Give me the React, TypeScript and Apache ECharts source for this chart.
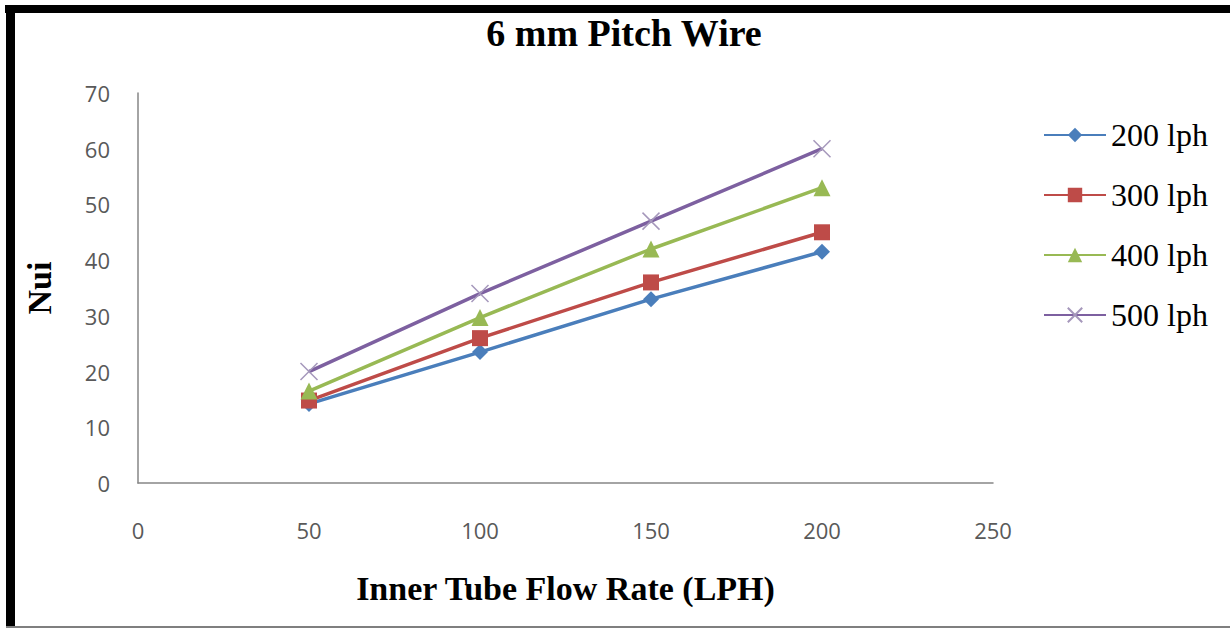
import React, { useEffect, useRef } from "react";
import * as echarts from "echarts";

const xValues = [50, 100, 150, 200];
const seriesNames = ["200 lph", "300 lph", "400 lph", "500 lph"];
const s200 = [14.2, 23.5, 33, 41.5];
const s300 = [14.8, 26, 36, 45];
const s400 = [16.5, 29.7, 42, 53];
const s500 = [20, 34, 47, 60];
const colors = ["#4A7EBB", "#BE4B48", "#98B954", "#7D60A0"];
const symbols = ["diamond", "rect", "triangle", "path://M0,0L10,10M10,0L0,10"];
const symbolSizes = [16, 16, 17, 17];

const xTicks = { min: 0, max: 250, interval: 50 };
const yTicks = { min: 0, max: 70, interval: 10 };

export default function App() {
  const ref = useRef<HTMLDivElement>(null);
  useEffect(() => {
    if (!ref.current) return;
    const chart = echarts.init(ref.current, undefined, { renderer: "svg" });
    const all = [s200, s300, s400, s500];
    const series = all.map((vals, i) => ({
      name: seriesNames[i],
      type: "line",
      data: xValues.map((x, j) => [x, vals[j]]),
      symbol: symbols[i],
      symbolSize: symbolSizes[i],
      showAllSymbol: true,
      lineStyle: { color: colors[i], width: 3.5 },
      itemStyle:
        i === 3
          ? { color: "#a597bb", borderColor: "#a597bb", borderWidth: 1.5 }
          : { color: colors[i], borderColor: colors[i], borderWidth: 0 },
      z: 2 + i,
    }));
    const option: any = {
      animation: false,
      backgroundColor: "#ffffff",
      title: {
        text: "6 mm Pitch Wire",
        left: 619,
        top: 9,
        textAlign: "center",
        textStyle: {
          fontFamily: "Liberation Serif",
          fontWeight: "bold",
          fontSize: 38,
          color: "#000000",
        },
      },
      legend: {
        orient: "vertical",
        left: 1038,
        top: 114,
        itemWidth: 62,
        itemHeight: 18,
        itemGap: 28,
        data: seriesNames,
        textStyle: {
          fontFamily: "Liberation Serif",
          fontSize: 32,
          color: "#000000",
        },
      },
      grid: { left: 138, right: 237, top: 93, bottom: 146, containLabel: false },
      xAxis: {
        type: "value",
        min: xTicks.min,
        max: xTicks.max,
        interval: xTicks.interval,
        name: "Inner Tube Flow Rate (LPH)",
        nameLocation: "middle",
        nameGap: 88,
        nameTextStyle: {
          fontFamily: "Liberation Serif",
          fontWeight: "bold",
          fontSize: 34,
          color: "#000000",
        },
        axisLine: { show: true, lineStyle: { color: "#868686", width: 1.5 } },
        axisTick: { show: false },
        splitLine: { show: false },
        axisLabel: {
          margin: 36,
          fontFamily: "Open Sans",
          fontSize: 22,
          color: "#595959",
        },
      },
      yAxis: {
        type: "value",
        min: yTicks.min,
        max: yTicks.max,
        interval: yTicks.interval,
        name: "Nui",
        nameLocation: "middle",
        nameGap: 82,
        nameTextStyle: {
          fontFamily: "Liberation Serif",
          fontWeight: "bold",
          fontSize: 34,
          color: "#000000",
        },
        axisLine: { show: true, lineStyle: { color: "#868686", width: 1.5 } },
        axisTick: { show: false },
        splitLine: { show: false },
        axisLabel: {
          margin: 28,
          fontFamily: "Open Sans",
          fontSize: 22,
          color: "#595959",
        },
      },
      graphic: [
        { type: "rect", shape: { x: 5, y: 5, width: 1225, height: 8 }, style: { fill: "#000000" }, z: 100 },
        { type: "rect", shape: { x: 6, y: 5, width: 9, height: 623 }, style: { fill: "#000000" }, z: 100 },
        { type: "rect", shape: { x: 6, y: 626, width: 1224, height: 2 }, style: { fill: "#7f7f7f" }, z: 100 },
      ],
      series,
    };
    chart.setOption(option);
    return () => chart.dispose();
  }, []);
  return (
    <div
      ref={ref}
      style={{ position: "absolute", left: 0, top: 0, width: 1230, height: 629, background: "#fff" }}
    />
  );
}
